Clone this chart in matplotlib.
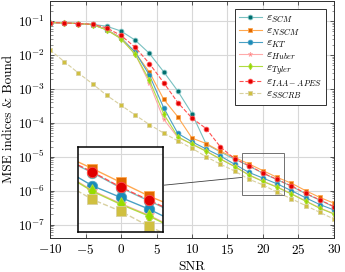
import numpy as np
import matplotlib
matplotlib.use("Agg")
import matplotlib.pyplot as plt
from matplotlib.patches import Rectangle, ConnectionPatch

plt.rcParams.update({
    "font.family": "serif",
    "font.serif": ["cmr10"],
    "mathtext.fontset": "cm",
    "axes.formatter.use_mathtext": True,
    "font.size": 9.5,
})

snr = [-10, -8, -6, -4, -2, 0, 2, 4, 6, 8, 10, 12, 14, 16, 18, 20, 22, 24, 26, 28, 30]

# values read as log10(MSE)
log_scm = [-1.04, -1.05, -1.07, -1.09, -1.15, -1.29, -1.56, -1.95, -2.49, -3.06, -3.73,
           -4.63, -4.86, -5.07, -5.27, -5.49, -5.68, -5.87, -6.09, -6.28, -6.48]
log_nscm = [-1.04, -1.05, -1.07, -1.10, -1.25, -1.49, -1.93, -2.50, -3.30, -3.82, -4.45,
            -4.61, -4.84, -5.02, -5.21, -5.41, -5.61, -5.78, -6.00, -6.20, -6.37]
log_kt = [-1.04, -1.05, -1.07, -1.10, -1.25, -1.50, -1.91, -2.59, -3.55, -4.31, -4.56,
          -4.77, -4.98, -5.22, -5.46, -5.63, -5.80, -6.00, -6.21, -6.41, -6.57]
log_huber = [-1.04, -1.05, -1.07, -1.10, -1.25, -1.51, -1.97, -2.83, -3.89, -4.43, -4.62,
             -4.83, -5.06, -5.28, -5.53, -5.72, -5.89, -6.09, -6.30, -6.51, -6.68]
log_tyler = [-1.04, -1.05, -1.07, -1.10, -1.26, -1.52, -1.98, -2.74, -3.73, -4.41, -4.63,
             -4.84, -5.07, -5.29, -5.54, -5.73, -5.90, -6.10, -6.31, -6.52, -6.69]
log_iaa = [-1.04, -1.05, -1.07, -1.09, -1.20, -1.42, -1.77, -2.25, -2.81, -3.40, -3.86,
           -4.17, -4.71, -5.06, -5.26, -5.48, -5.67, -5.86, -6.08, -6.27, -6.47]
log_sscrb = [-1.85, -2.19, -2.53, -2.85, -3.19, -3.48, -3.77, -4.05, -4.30, -4.53, -4.75,
             -5.00, -5.22, -5.42, -5.66, -5.83, -6.05, -6.24, -6.44, -6.64, -6.84]

series = [
    (r"$\varepsilon_{SCM}$", log_scm, "#78c0c0", "#006e6e", "o", "-"),
    (r"$\varepsilon_{NSCM}$", log_nscm, "#ffa850", "#e06800", "s", "-"),
    (r"$\varepsilon_{KT}$", log_kt, "#4aa0c4", "#1a8cb8", "o", "-"),
    (r"$\varepsilon_{Huber}$", log_huber, "#ffaaaa", "#ff7878", "*", "-"),
    (r"$\varepsilon_{Tyler}$", log_tyler, "#b0dc40", "#96dc00", "d", "-"),
    (r"$\varepsilon_{IAA-APES}$", log_iaa, "#ff5050", "#e00000", "o", "--"),
    (r"$\varepsilon_{SSCRB}$", log_sscrb, "#d8d0a0", "#d0c040", "s", "--"),
]

fig = plt.figure(figsize=(3.45, 2.72), dpi=100)
ax = fig.add_axes([0.145, 0.125, 0.823, 0.872])


def draw(a, ms, lw):
    for label, vals, lc, mc, mk, ls in series:
        a.plot(snr, 10.0 ** np.array(vals), linestyle=ls, color=lc, linewidth=lw,
               marker=mk, markersize=ms, markerfacecolor=mc, markeredgecolor=lc,
               markeredgewidth=0.6, label=label)


draw(ax, 3.4, 0.8)
ax.set_yscale("log")
ax.set_xlim(-10, 30)
ax.set_ylim(4e-8, 0.4)
ax.set_xticks([-10, -5, 0, 5, 10, 15, 20, 25, 30])
ax.set_yticks([1e-7, 1e-6, 1e-5, 1e-4, 1e-3, 1e-2, 1e-1])
ax.grid(True, which="major", color="#d8d8d8", linewidth=0.8)
ax.set_axisbelow(True)
ax.tick_params(which="both", direction="in", top=True, right=True, color="#404040")
ax.tick_params(which="major", length=3, width=0.6)
ax.tick_params(which="minor", length=1.8, width=0.4)
for s in ax.spines.values():
    s.set_linewidth(0.7)
    s.set_color("#303030")
ax.set_xlabel("SNR", labelpad=3)
ax.set_ylabel("MSE indices & Bound", labelpad=2)

leg = ax.legend(loc="upper right", fontsize=8.5, labelspacing=0.0, handlelength=1.9,
                handletextpad=0.35, borderpad=0.35, borderaxespad=0.7, fancybox=False,
                framealpha=1, edgecolor="#303030")
leg.get_frame().set_linewidth(0.7)

# zoom window
x0, x1 = 17, 23
y0, y1 = 7.4e-7, 1.26e-5
ax.add_patch(Rectangle((x0, y0), x1 - x0, y1 - y0, fill=False, edgecolor="#707070",
                       linewidth=0.7, zorder=5))

axin = ax.inset_axes([0.099, 0.026, 0.299, 0.357])
draw(axin, 7.5, 1.0)
axin.set_yscale("log")
axin.set_xlim(x0, x1)
axin.set_ylim(y0, y1)
axin.set_xticks([20])
axin.set_yticks([1e-6, 1e-5])
axin.minorticks_off()
axin.tick_params(which="both", length=0, labelbottom=False, labelleft=False)
axin.grid(True, color="#d8d8d8", linewidth=0.8)
axin.set_axisbelow(True)
for s in axin.spines.values():
    s.set_linewidth(1.1)
    s.set_color("black")
axin.set_zorder(6)

con = ConnectionPatch(xyA=(1.0, 0.55), coordsA=axin.transAxes,
                      xyB=(x0, 2.45e-6), coordsB=ax.transData,
                      color="#404040", linewidth=0.6)
fig.add_artist(con)

fig.savefig("out.png", dpi=100)
